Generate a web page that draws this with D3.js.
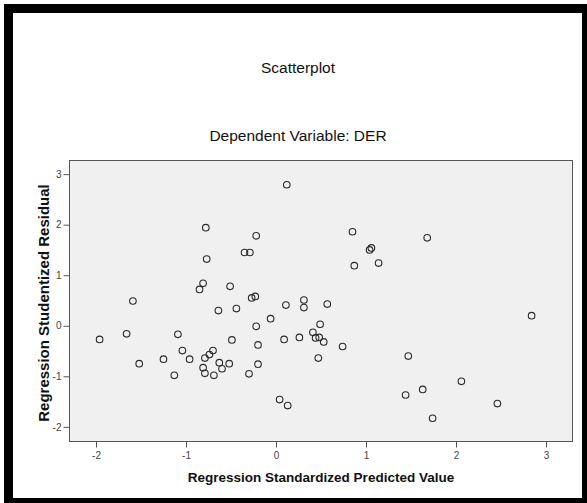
<!DOCTYPE html>
<head>
    <title>Scatterplot</title>
    <meta charset="utf-8">
    <script src="https://d3js.org/d3.v7.min.js"></script>
    <style>
        body {
            margin: 0;
            background: #fff;
            font-family: "Liberation Sans", Arial, sans-serif;
        }

        .tick line {
            stroke: #555;
        }

        .tick text {
            fill: #444;
            font-size: 10px;
        }

        .dot {
            fill: none;
            stroke: #2a2a2a;
            stroke-width: 1.1;
        }
    </style>
</head>

<body>
    <svg id="chart" width="587" height="503"></svg>
    <script type="text/javascript">
        // standardized predicted value (x) and studentized residual (y)
        var predicted = [
            -1.96, -1.66, -1.59, -1.52, -1.25, -1.13, -1.09, -1.04, -0.96, -0.85,
            -0.81, -0.78, -0.77, -0.81, -0.79, -0.79, -0.74, -0.70, -0.69, -0.64,
            -0.63, -0.60, -0.52, -0.51, -0.49, -0.44, -0.35, -0.29, -0.27, -0.23,
            -0.22, -0.22, -0.20, -0.20, -0.30, -0.06, 0.12, 0.11, 0.09, 0.04,
            0.13, 0.26, 0.31, 0.31, 0.41, 0.44, 0.48, 0.49, 0.47, 0.53,
            0.57, 0.74, 0.85, 0.87, 1.04, 1.06, 1.14, 1.68, 1.47, 1.44,
            1.63, 1.74, 2.06, 2.46, 2.84
        ];
        var residual = [
            -0.27, -0.16, 0.49, -0.75, -0.66, -0.98, -0.17, -0.49, -0.66, 0.72,
            0.84, 1.94, 1.32, -0.83, -0.94, -0.64, -0.57, -0.49, -0.98, 0.30,
            -0.73, -0.85, -0.75, 0.78, -0.28, 0.34, 1.45, 1.45, 0.55, 0.58,
            1.78, -0.01, -0.38, -0.76, -0.95, 0.14, 2.79, 0.41, -0.27, -1.46,
            -1.58, -0.23, 0.51, 0.36, -0.13, -0.24, -0.23, 0.03, -0.64, -0.32,
            0.43, -0.41, 1.86, 1.19, 1.50, 1.54, 1.24, 1.74, -0.60, -1.37,
            -1.26, -1.83, -1.10, -1.54, 0.20
        ];
        var xTicks = [-2, -1, 0, 1, 2, 3];
        var yTicks = [-2, -1, 0, 1, 2, 3];

        var title = "Scatterplot";
        var subtitle = "Dependent Variable: DER";
        var xLabel = "Regression Standardized Predicted Value";
        var yLabel = "Regression Studentized Residual";

        var svg = d3.select("#chart");

        // plot frame
        var frame = { left: 69, right: 573, top: 160, bottom: 441 };

        var x = d3.scaleLinear().domain([-2.3, 3.3]).range([frame.left, frame.right]);
        var y = d3.scaleLinear().domain([-2.28, 3.28]).range([frame.bottom, frame.top]);

        var plain = function(d) {
            return String(d);
        };

        // thick black outer border
        svg.append("rect")
            .attr("x", 8.5)
            .attr("y", 8.5)
            .attr("width", 578)
            .attr("height", 494)
            .attr("fill", "#fff")
            .attr("stroke", "#000")
            .attr("stroke-width", 9);

        svg.append("text")
            .attr("x", 298)
            .attr("y", 72.5)
            .attr("text-anchor", "middle")
            .style("font-size", "15.5px")
            .style("fill", "#111")
            .text(title);

        svg.append("text")
            .attr("x", 298)
            .attr("y", 141)
            .attr("text-anchor", "middle")
            .style("font-size", "15.5px")
            .style("fill", "#111")
            .text(subtitle);

        svg.append("rect")
            .attr("x", frame.left + 0.5)
            .attr("y", frame.top + 0.5)
            .attr("width", frame.right - frame.left - 1)
            .attr("height", frame.bottom - frame.top)
            .attr("fill", "#f0f0f0")
            .attr("stroke", "#555")
            .attr("stroke-width", 1);

        var xAxis = svg.append("g")
            .attr("transform", "translate(0," + (frame.bottom + 0.5) + ")")
            .call(d3.axisBottom(x).tickValues(xTicks).tickFormat(plain)
                .tickSize(6).tickSizeOuter(0).tickPadding(4));
        xAxis.select(".domain").remove();
        xAxis.selectAll(".tick text").attr("font-family", null).attr("font-size", null);

        var yAxis = svg.append("g")
            .attr("transform", "translate(" + (frame.left + 0.5) + ",0)")
            .call(d3.axisLeft(y).tickValues(yTicks).tickFormat(plain)
                .tickSize(6).tickSizeOuter(0).tickPadding(2));
        yAxis.select(".domain").remove();
        yAxis.selectAll(".tick text").attr("font-family", null).attr("font-size", null);

        svg.append("text")
            .attr("x", 321)
            .attr("y", 481.5)
            .attr("text-anchor", "middle")
            .style("font-size", "13.5px")
            .style("font-weight", "bold")
            .style("fill", "#111")
            .text(xLabel);

        svg.append("text")
            .attr("transform", "translate(49,303) rotate(-90)")
            .attr("text-anchor", "middle")
            .style("font-size", "15px")
            .style("font-weight", "bold")
            .style("fill", "#111")
            .text(yLabel);

        var points = predicted.map(function(d, i) {
            return { x: d, y: residual[i] };
        });

        svg.append("g")
            .selectAll("circle")
            .data(points).enter()
            .append("circle")
            .attr("class", "dot")
            .attr("cx", function(d) {
                return x(d.x);
            })
            .attr("cy", function(d) {
                return y(d.y);
            })
            .attr("r", 3.3);
    </script>
</body>
